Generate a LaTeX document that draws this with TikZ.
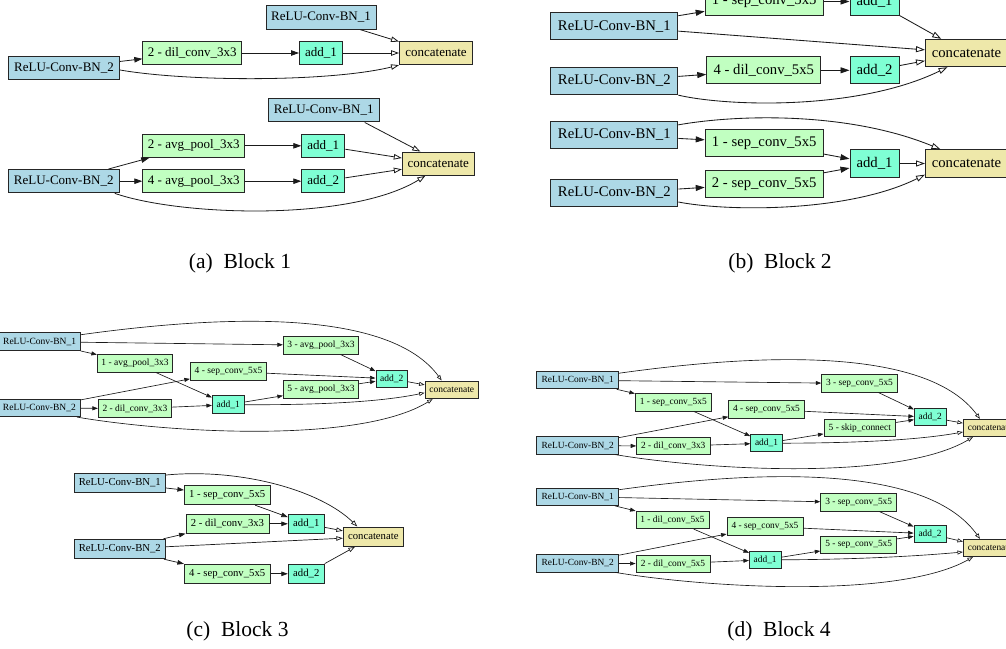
\documentclass[tikz,border=0pt]{standalone}
\usepackage{fontspec}
\setmainfont{Liberation Serif}
\usetikzlibrary{arrows.meta}
\definecolor{bnc}{HTML}{ADD8E6}
\definecolor{opc}{HTML}{C1FFC1}
\definecolor{adc}{HTML}{7FFFD4}
\definecolor{ctc}{HTML}{EEE8AA}
\definecolor{edgec}{HTML}{1A1A1A}
\tikzset{
  box/.style={draw=black!85, line width=1pt, inner sep=0pt},
  bn/.style={box, fill=bnc},
  op/.style={box, fill=opc},
  ad/.style={box, fill=adc},
  ct/.style={box, fill=ctc},
  % text size and box height of each block
  sA/.style={font=\fontsize{13}{13}\selectfont, minimum height=23.3pt},
  sB/.style={font=\fontsize{14.7}{14.7}\selectfont, minimum height=27.3pt},
  sC/.style={font=\fontsize{9.5}{9.5}\selectfont, minimum height=17.7pt, line width=0.85pt},
  sD/.style={font=\fontsize{10.7}{10.7}\selectfont, minimum height=19.5pt, line width=0.9pt},
  sE/.style={font=\fontsize{9.4}{9.4}\selectfont, minimum height=17.3pt, line width=0.85pt},
  % connectors: filled tips between operations, open tips into concatenate
  fA/.style={draw=edgec, line width=0.8pt, -{Triangle[length=8pt,width=5.5pt]}},
  oA/.style={draw=edgec, line width=0.8pt, -{Triangle[length=8pt,width=5.5pt,fill=white]}},
  fB/.style={draw=edgec, line width=0.85pt, -{Triangle[length=9pt,width=6pt]}},
  oB/.style={draw=edgec, line width=0.85pt, -{Triangle[length=9pt,width=6pt,fill=white]}},
  fC/.style={draw=edgec, line width=0.65pt, -{Triangle[length=5.5pt,width=4pt]}},
  oC/.style={draw=edgec, line width=0.65pt, -{Triangle[length=5.5pt,width=4pt,fill=white]}},
  fD/.style={draw=edgec, line width=0.7pt, -{Triangle[length=6.5pt,width=4.5pt]}},
  oD/.style={draw=edgec, line width=0.7pt, -{Triangle[length=6.5pt,width=4.5pt,fill=white]}},
  captext/.style={font=\fontsize{21.5}{21.5}\selectfont, inner sep=0pt}
}
\begin{document}
\begin{tikzpicture}[x=1pt, y=1pt]
\useasboundingbox (0,0) rectangle (1006,-648);

% ---------------- Block 1 : first cell ----------------
\node[bn,sA,minimum width=110pt] (a1r1) at (321,-17.5) {ReLU-Conv-BN\_1};
\node[op,sA,minimum width=99pt]  (a1o2) at (192.3,-53) {2 - dil\_conv\_3x3};
\node[ad,sA,minimum width=43pt]  (a1a1) at (321,-53) {add\_1};
\node[ct,sA,minimum width=73pt]  (a1c)  at (436,-53) {concatenate};
\node[bn,sA,minimum width=111pt] (a1r2) at (64,-68) {ReLU-Conv-BN\_2};
\draw[fA] (a1r2) -- (a1o2);
\draw[fA] (a1o2) -- (a1a1);
\draw[oA] (a1a1) -- (a1c);
\draw[oA] (a1r1) -- (a1c);
\draw[oA] ([yshift=-2pt]a1r2.east) .. controls (190,-82) and (330,-82) .. (a1c.south west);

% ---------------- Block 1 : second cell ----------------
\node[bn,sA,minimum width=111pt] (a2r1) at (323.7,-110.3) {ReLU-Conv-BN\_1};
\node[op,sA,minimum width=102pt] (a2o2) at (193.8,-145.8) {2 - avg\_pool\_3x3};
\node[ad,sA,minimum width=43pt]  (a2a1) at (323.3,-145.8) {add\_1};
\node[ct,sA,minimum width=72pt]  (a2c)  at (438.3,-163.7) {concatenate};
\node[bn,sA,minimum width=111pt] (a2r2) at (63.8,-181.2) {ReLU-Conv-BN\_2};
\node[op,sA,minimum width=102pt] (a2o4) at (193.8,-181.2) {4 - avg\_pool\_3x3};
\node[ad,sA,minimum width=43pt]  (a2a2) at (323.3,-181.2) {add\_2};
\draw[fA] (a2r2) -- (a2o2);
\draw[fA] (a2r2) -- (a2o4);
\draw[fA] (a2o2) -- (a2a1);
\draw[fA] (a2o4) -- (a2a2);
\draw[oA] (a2a1) -- (a2c);
\draw[oA] (a2a2) -- (a2c);
\draw[oA] ([xshift=41pt]a2r1.south) -- ([xshift=-18pt]a2c.north);
\draw[oA] ([xshift=-5pt]a2r2.south east) .. controls (180,-216) and (350,-222) .. ([xshift=-13pt]a2c.south);

% ---------------- Block 2 : first cell ----------------
\node[op,sB,minimum width=118pt] (b1o1) at (764.2,-1.5) {1 - sep\_conv\_5x5};
\node[ad,sB,minimum width=49pt]  (b1a1) at (874.5,-1.5) {add\_1};
\node[bn,sB,minimum width=127pt] (b1r1) at (614.3,-26.3) {ReLU-Conv-BN\_1};
\node[ct,sB,minimum width=82pt]  (b1c)  at (966.5,-53) {concatenate};
\node[bn,sB,minimum width=127pt] (b1r2) at (614.3,-81) {ReLU-Conv-BN\_2};
\node[op,sB,minimum width=114pt] (b1o4) at (763.8,-70.3) {4 - dil\_conv\_5x5};
\node[ad,sB,minimum width=49pt]  (b1a2) at (874.5,-70.3) {add\_2};
\draw[fB] (b1r1) -- (b1o1);
\draw[fB] (b1o1) -- (b1a1);
\draw[oB] (b1a1) -- (b1c);
\draw[oB] (b1r1) -- (b1c);
\draw[fB] (b1r2) -- (b1o4);
\draw[fB] (b1o4) -- (b1a2);
\draw[oB] (b1a2) -- (b1c);
\draw[oB] (b1r2.south east) .. controls (730,-107) and (860,-110) .. ([xshift=-19pt]b1c.south);

% ---------------- Block 2 : second cell ----------------
\node[bn,sB,minimum width=127pt] (b2r1) at (614.3,-135) {ReLU-Conv-BN\_1};
\node[op,sB,minimum width=118pt] (b2o1) at (764.2,-143) {1 - sep\_conv\_5x5};
\node[ad,sB,minimum width=49pt]  (b2a1) at (874.5,-163.5) {add\_1};
\node[ct,sB,minimum width=82pt]  (b2c)  at (966.5,-163.5) {concatenate};
\node[op,sB,minimum width=118pt] (b2o2) at (764.2,-183.7) {2 - sep\_conv\_5x5};
\node[bn,sB,minimum width=127pt] (b2r2) at (614.3,-193) {ReLU-Conv-BN\_2};
\draw[fB] (b2r1) -- (b2o1);
\draw[fB] (b2o1) -- (b2a1);
\draw[fB] (b2o2) -- (b2a1);
\draw[fB] (b2r2) -- (b2o2);
\draw[oB] (b2a1) -- (b2c);
\draw[oB] ([yshift=-4pt]b2r1.north east) .. controls (740,-114) and (850,-112) .. ([xshift=-26pt]b2c.north);
\draw[oB] ([yshift=-9pt]b2r2.east) .. controls (730,-212) and (850,-212) .. ([yshift=3pt]b2c.south west);

% ---------------- Block 3 : first cell ----------------
\node[bn,sC,minimum width=82pt]   (c1r1) at (39.6,-341.7) {ReLU-Conv-BN\_1};
\node[op,sC,minimum width=75.4pt] (c1o1) at (135,-363.2) {1 - avg\_pool\_3x3};
\node[op,sC,minimum width=75.4pt] (c1o3) at (321,-345.3) {3 - avg\_pool\_3x3};
\node[op,sC,minimum width=76.4pt] (c1o4) at (228.5,-371.5) {4 - sep\_conv\_5x5};
\node[ad,sC,minimum width=31.7pt] (c1a2) at (391.8,-378.8) {add\_2};
\node[ct,sC,minimum width=53.3pt] (c1c)  at (451.7,-389.8) {concatenate};
\node[op,sC,minimum width=75.4pt] (c1o5) at (321,-389.5) {5 - avg\_pool\_3x3};
\node[ad,sC,minimum width=31.7pt] (c1a1) at (228.2,-404.7) {add\_1};
\node[bn,sC,minimum width=82pt]   (c1r2) at (39.4,-407.8) {ReLU-Conv-BN\_2};
\node[op,sC,minimum width=73.4pt] (c1o2) at (135,-408.7) {2 - dil\_conv\_3x3};
\draw[oC] ([yshift=7pt]c1r1.east) .. controls (230,-314) and (390,-310) .. ([xshift=-10pt]c1c.north);
\draw[fC] (c1r1) -- (c1o3);
\draw[fC] (c1r1) -- (c1o1);
\draw[fC] (c1o3) -- (c1a2);
\draw[fC] (c1o4) -- (c1a2);
\draw[fC] (c1o5) -- (c1a2);
\draw[oC] (c1a2) -- (c1c);
\draw[fC] (c1o1) -- (c1a1);
\draw[fC] (c1r2) -- (c1o4);
\draw[fC] (c1r2) -- (c1o2);
\draw[fC] (c1o2) -- (c1a1);
\draw[fC] (c1a1) -- (c1o5);
\draw[oC] (c1a1.east) .. controls (320,-405) and (380,-402) .. ([yshift=-3pt]c1c.west);
\draw[oC] ([xshift=-4pt]c1r2.south east) .. controls (170,-433) and (360,-444) .. ([xshift=8pt]c1c.south west);

% ---------------- Block 3 : second cell ----------------
\node[bn,sD,minimum width=91.7pt] (c2r1) at (119.8,-482.7) {ReLU-Conv-BN\_1};
\node[op,sD,minimum width=85.7pt] (c2o1) at (227.2,-495) {1 - sep\_conv\_5x5};
\node[op,sD,minimum width=83pt]   (c2o2) at (227.5,-523.8) {2 - dil\_conv\_3x3};
\node[ad,sD,minimum width=36pt]   (c2a1) at (306.3,-523.8) {add\_1};
\node[ct,sD,minimum width=60pt]   (c2c)  at (373.3,-536.7) {concatenate};
\node[bn,sD,minimum width=91.7pt] (c2r2) at (119.8,-549) {ReLU-Conv-BN\_2};
\node[op,sD,minimum width=85.7pt] (c2o4) at (227.2,-573.8) {4 - sep\_conv\_5x5};
\node[ad,sD,minimum width=36pt]   (c2a2) at (306.3,-573.8) {add\_2};
\draw[oD] ([yshift=7.7pt]c2r1.east) .. controls (240,-468) and (320,-490) .. ([xshift=-16pt]c2c.north);
\draw[fD] (c2r1) -- (c2o1);
\draw[fD] (c2o1) -- (c2a1);
\draw[fD] (c2o2) -- (c2a1);
\draw[fD] (c2r2) -- (c2o2);
\draw[fD] (c2r2) -- (c2o4);
\draw[fD] (c2o4) -- (c2a2);
\draw[oD] (c2a1) -- (c2c);
\draw[oD] (c2r2) -- (c2c);
\draw[oD] (c2a2) -- (c2c);

% ---------------- Block 4 : first cell ----------------
\node[bn,sE,minimum width=82pt]   (d1r1) at (577.7,-380.2) {ReLU-Conv-BN\_1};
\node[op,sE,minimum width=75.6pt] (d1o3) at (859.5,-383.5) {3 - sep\_conv\_5x5};
\node[op,sE,minimum width=76pt]   (d1o1) at (673.3,-402.5) {1 - sep\_conv\_5x5};
\node[op,sE,minimum width=75.6pt] (d1o4) at (766.5,-409.5) {4 - sep\_conv\_5x5};
\node[ad,sE,minimum width=31.7pt] (d1a2) at (930.2,-417.2) {add\_2};
\node[ct,sE,minimum width=53.3pt] (d1c)  at (990,-428) {concatenate};
\node[op,sE,minimum width=71.7pt] (d1o5) at (859.8,-428) {5 - skip\_connect};
\node[ad,sE,minimum width=31.7pt] (d1a1) at (766.5,-443.2) {add\_1};
\node[bn,sE,minimum width=82pt]   (d1r2) at (577.7,-445.5) {ReLU-Conv-BN\_2};
\node[op,sE,minimum width=73.3pt] (d1o2) at (673.3,-446.2) {2 - dil\_conv\_3x3};
\draw[oC] ([yshift=7pt]d1r1.east) .. controls (768,-352.3) and (928,-348.3) .. ([xshift=-10pt]d1c.north);
\draw[fC] (d1r1) -- (d1o3);
\draw[fC] (d1r1) -- (d1o1);
\draw[fC] (d1o3) -- (d1a2);
\draw[fC] (d1o4) -- (d1a2);
\draw[fC] (d1o5) -- (d1a2);
\draw[oC] (d1a2) -- (d1c);
\draw[fC] (d1o1) -- (d1a1);
\draw[fC] (d1r2) -- (d1o4);
\draw[fC] (d1r2) -- (d1o2);
\draw[fC] (d1o2) -- (d1a1);
\draw[fC] (d1a1) -- (d1o5);
\draw[oC] (d1a1.east) .. controls (858,-443) and (918,-440) .. ([yshift=-4pt]d1c.west);
\draw[oC] ([xshift=-4pt]d1r2.south east) .. controls (708.7,-470.3) and (898.7,-481.3) .. ([xshift=10pt]d1c.south west);

% ---------------- Block 4 : second cell ----------------
\node[bn,sE,minimum width=82pt]   (d2r1) at (577.7,-496.7) {ReLU-Conv-BN\_1};
\node[op,sE,minimum width=76pt]   (d2o3) at (858.7,-502.5) {3 - sep\_conv\_5x5};
\node[op,sE,minimum width=73pt]   (d2o1) at (672.5,-520) {1 - dil\_conv\_5x5};
\node[op,sE,minimum width=76pt]   (d2o4) at (765,-526.5) {4 - sep\_conv\_5x5};
\node[ad,sE,minimum width=32pt]   (d2a2) at (930,-533.8) {add\_2};
\node[ct,sE,minimum width=53.3pt] (d2c)  at (990,-548) {concatenate};
\node[op,sE,minimum width=76pt]   (d2o5) at (858.7,-544.8) {5 - sep\_conv\_5x5};
\node[ad,sE,minimum width=31.7pt] (d2a1) at (765.2,-559.8) {add\_1};
\node[bn,sE,minimum width=82pt]   (d2r2) at (577.7,-563.3) {ReLU-Conv-BN\_2};
\node[op,sE,minimum width=74pt]   (d2o2) at (673,-563.7) {2 - dil\_conv\_5x5};
\draw[oC] ([yshift=7pt]d2r1.east) .. controls (768,-468.8) and (928,-466) .. ([xshift=-10pt]d2c.north);
\draw[fC] (d2r1) -- (d2o3);
\draw[fC] (d2r1) -- (d2o1);
\draw[fC] (d2o3) -- (d2a2);
\draw[fC] (d2o4) -- (d2a2);
\draw[fC] (d2o5) -- (d2a2);
\draw[oC] (d2a2) -- (d2c);
\draw[fC] (d2o1) -- (d2a1);
\draw[fC] (d2r2) -- (d2o4);
\draw[fC] (d2r2) -- (d2o2);
\draw[fC] (d2o2) -- (d2a1);
\draw[fC] (d2a1) -- (d2o5);
\draw[oC] (d2a1.east) .. controls (858,-559.5) and (918,-556) .. ([yshift=-4pt]d2c.west);
\draw[oC] ([xshift=-4pt]d2r2.south east) .. controls (708.7,-588) and (898.7,-599) .. ([xshift=10pt]d2c.south west);

% ---------------- captions ----------------
\node[captext] (capa) at (240,-263.5) {(a)\hspace{0.5em}Block 1};
\node[captext] (capb) at (780,-263) {(b)\hspace{0.5em}Block 2};
\node[captext] (capc) at (237.5,-631) {(c)\hspace{0.5em}Block 3};
\node[captext] (capd) at (779,-631) {(d)\hspace{0.5em}Block 4};
\end{tikzpicture}
\end{document}
